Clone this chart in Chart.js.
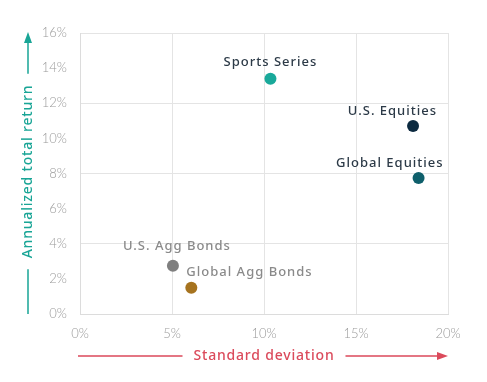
<!DOCTYPE html>
<html>
<head>
<meta charset="utf-8">
<script src="https://cdn.jsdelivr.net/npm/chart.js@4"></script>
<style>
  html, body { margin: 0; padding: 0; background: #fff; }
  #wrap { width: 487px; height: 382px; }
</style>
</head>
<body>
<div id="wrap"><canvas id="riskChart"></canvas></div>
<script>
// data
var names = ['Sports Series', 'U.S. Equities', 'Global Equities', 'U.S. Agg Bonds', 'Global Agg Bonds'];
var stdDev = [10.35, 18.1, 18.4, 5.05, 6.05];
var totalReturn = [13.4, 10.7, 7.75, 2.75, 1.5];
var dotColors = ['#19a99a', '#0c2a40', '#0e5f6b', '#7f7f7f', '#a6731f'];
var xTicks = [0, 5, 10, 15, 20];
var yTicks = [0, 2, 4, 6, 8, 10, 12, 14, 16];

// label placement next to each dot
var labelAlign = ['center', 'right', 'right', 'center', 'left'];
var labelDx = [0, 24, 25, 4, -5];
var labelDy = [-16, -15, -15, -19, -15];
var labelColor = ['#2c3a47', '#2c3a47', '#2c3a47', '#8a8a8a', '#8a8a8a'];

var points = stdDev.map(function (v, i) { return { x: v, y: totalReturn[i] }; });

var labelFont = '500 13px "Noto Sans"';
var titleFont = '500 14px "Noto Sans"';

var decor = {
  id: 'decor',
  afterDatasetsDraw: function (chart) {
    var c = chart.ctx;
    var meta = chart.getDatasetMeta(0);
    c.save();
    c.font = labelFont;
    c.letterSpacing = '1px';
    c.textBaseline = 'middle';
    meta.data.forEach(function (pt, i) {
      c.fillStyle = labelColor[i];
      c.textAlign = labelAlign[i];
      c.fillText(names[i], pt.x + labelDx[i], pt.y + labelDy[i]);
    });
    c.restore();

    var a = chart.chartArea;
    c.save();
    c.font = titleFont;
    c.letterSpacing = '0.8px';
    c.textBaseline = 'middle';
    c.textAlign = 'center';
    c.lineWidth = 1.5;

    // x axis title with arrow
    var xt = 'Standard deviation';
    var xw = c.measureText(xt).width;
    var xc = (a.left + a.right) / 2, xy = 356;
    c.fillStyle = '#db4a5b';
    c.strokeStyle = '#db4a5b';
    c.fillText(xt, xc, xy);
    c.beginPath();
    c.moveTo(a.left - 2, xy); c.lineTo(xc - xw / 2 - 11, xy);
    c.moveTo(xc + xw / 2 + 11, xy); c.lineTo(a.right - 6, xy);
    c.stroke();
    c.beginPath();
    c.moveTo(a.right, xy); c.lineTo(a.right - 11, xy - 4); c.lineTo(a.right - 11, xy + 4);
    c.closePath(); c.fill();

    // y axis title with arrow
    var yt = 'Annualized total return';
    var yw = c.measureText(yt).width;
    var yc = (a.top + a.bottom) / 2 - 2, yx = 28;
    c.fillStyle = '#19a596';
    c.strokeStyle = '#19a596';
    c.save();
    c.translate(yx, yc);
    c.rotate(-Math.PI / 2);
    c.fillText(yt, 0, 0);
    c.restore();
    c.beginPath();
    c.moveTo(yx, a.bottom); c.lineTo(yx, yc + yw / 2 + 11);
    c.moveTo(yx, yc - yw / 2 - 11); c.lineTo(yx, a.top + 6);
    c.stroke();
    c.beginPath();
    c.moveTo(yx, a.top - 1); c.lineTo(yx - 4, a.top + 10); c.lineTo(yx + 4, a.top + 10);
    c.closePath(); c.fill();
    c.restore();
  }
};

var ctx = document.getElementById('riskChart').getContext('2d');
var chart = new Chart(ctx, {
  type: 'scatter',
  data: {
    datasets: [{
      data: points,
      backgroundColor: dotColors,
      borderWidth: 0,
      pointRadius: 6,
      pointHoverRadius: 6
    }]
  },
  options: {
    responsive: true,
    maintainAspectRatio: false,
    animation: false,
    layout: { padding: { left: 0, right: 39, top: 33, bottom: 0 } },
    plugins: { legend: { display: false }, tooltip: { enabled: false } },
    scales: {
      x: {
        min: 0, max: 20,
        afterFit: function (s) { s.height = 68; },
        afterBuildTicks: function (s) { s.ticks = xTicks.map(function (v) { return { value: v }; }); },
        grid: { color: '#e4e4e4', lineWidth: 1, drawTicks: false },
        border: { color: '#dcdcdc' },
        ticks: {
          padding: 12,
          color: '#9a9a9a',
          font: { family: 'Lato', size: 13, weight: '300' },
          callback: function (v) { return v + '%'; }
        }
      },
      y: {
        min: 0, max: 16,
        afterFit: function (s) { s.width = 80; },
        afterBuildTicks: function (s) { s.ticks = yTicks.map(function (v) { return { value: v }; }); },
        grid: {
          drawTicks: false,
          lineWidth: 1,
          color: function (c) { return (c.tick && c.tick.value % 4 === 0) ? '#e4e4e4' : 'rgba(0,0,0,0)'; }
        },
        border: { color: '#dcdcdc' },
        ticks: {
          padding: 13,
          color: '#9a9a9a',
          font: { family: 'Lato', size: 13, weight: '300' },
          callback: function (v) { return v + '%'; }
        }
      }
    }
  },
  plugins: [decor]
});
</script>
</body>
</html>
